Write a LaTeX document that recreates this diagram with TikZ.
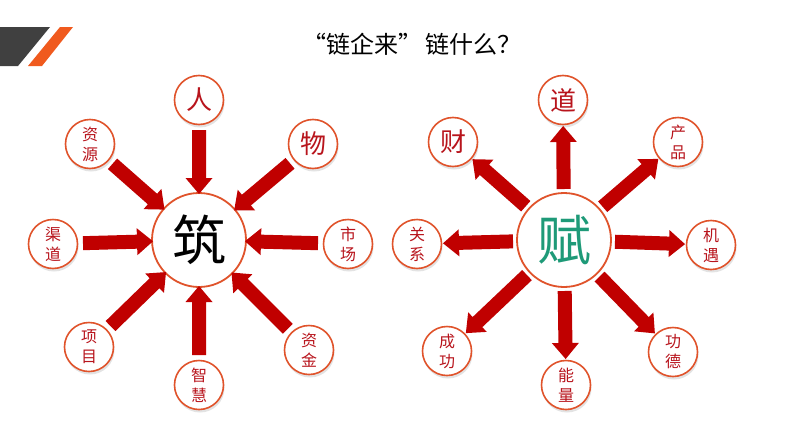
\documentclass[tikz,border=0pt]{standalone}
\usepackage{fontspec}
\setmainfont{Noto Sans CJK SC}
\usetikzlibrary{calc,shadows}
\definecolor{arrred}{HTML}{C00000}
\definecolor{ringc}{HTML}{E0532B}
\definecolor{txtred}{HTML}{B8141C}
\definecolor{darkgr}{HTML}{404040}
\definecolor{orng}{HTML}{F05A1E}
\definecolor{fugreen}{HTML}{1E9A78}
% block arrow from tail #1 to tip #2
\newcommand\blockarrow[2]{%
  \coordinate (nk) at ($(#2)!16pt!(#1)$);
  \fill[arrred] ($(#1)!7pt!90:(#2)$) -- ($(nk)!7pt!-90:(#1)$) -- ($(nk)!13.5pt!-90:(#1)$) -- (#2)
    -- ($(nk)!13.5pt!90:(#1)$) -- ($(nk)!7pt!90:(#1)$) -- ($(#1)!7pt!-90:(#2)$) -- cycle;}
% arrow from outer node #1 into hub #2
\newcommand\spokein[2]{%
  \coordinate (ta) at ($(#1)!30pt!(#2)$);
  \coordinate (tb) at ($(#2)!46pt!(#1)$);
  \blockarrow{ta}{tb}}
% arrow from hub #1 out to outer node #2
\newcommand\spokeout[2]{%
  \coordinate (ta) at ($(#1)!51pt!(#2)$);
  \coordinate (tb) at ($(#2)!26pt!(#1)$);
  \blockarrow{ta}{tb}}
\begin{document}
\begin{tikzpicture}[x=1pt,y=-1pt,
  small/.style={circle, draw=ringc, line width=1.6pt, fill=white, minimum size=49pt, inner sep=0pt,
    text=txtred, font=\fontsize{16}{20}\selectfont, align=center,
    drop shadow={opacity=0.22, shadow xshift=1pt, shadow yshift=-3pt}},
  onechar/.style={small, font=\fontsize{26}{28}\selectfont},
  hub/.style={circle, draw=ringc, line width=1.8pt, fill=white, minimum size=94pt, inner sep=0pt,
    font=\fontsize{54}{56}\selectfont}]
\useasboundingbox (0,0) rectangle (800,434);
\fill[white] (0,0) rectangle (800,434);
% corner decoration
\fill[darkgr] (0,27) -- (50,27) -- (18,66) -- (0,66) -- cycle;
\fill[orng] (60,27) -- (73,27) -- (42,66) -- (28,66) -- cycle;
% title
\node[font=\fontsize{24}{26}\selectfont] (title) at (412,44) {“链企来”\,链什么？};
% left hub
\node[hub] (zhu) at (199,240) {筑};
\node[onechar] (ren) at (199,100) {人};
\node[small] (ziyuan) at (90,144) {资\\源};
\node[onechar] (wu) at (313,144) {物};
\node[small] (qudao) at (53,244) {渠\\道};
\node[small] (shichang) at (348,244) {市\\场};
\node[small] (xiangmu) at (89,347) {项\\目};
\node[small] (zhihui) at (199,385) {智\\慧};
\node[small] (zijin) at (309,350) {资\\金};
\foreach \o in {ren,ziyuan,wu,qudao,shichang,xiangmu,zhihui,zijin}{\spokein{\o}{zhu}}
% right hub
\node[hub, text=fugreen] (fu) at (564,240) {赋};
\node[onechar] (dao) at (563,100) {道};
\node[onechar] (cai) at (453,142) {财};
\node[small] (chanpin) at (678,142) {产\\品};
\node[small] (guanxi) at (417,244) {关\\系};
\node[small] (jiyu) at (711,245) {机\\遇};
\node[small] (chenggong) at (447,351) {成\\功};
\node[small] (nengliang) at (566,385) {能\\量};
\node[small] (gongde) at (673,352) {功\\德};
\foreach \o in {dao,cai,chanpin,guanxi,jiyu,chenggong,nengliang,gongde}{\spokeout{fu}{\o}}
\end{tikzpicture}
\end{document}
